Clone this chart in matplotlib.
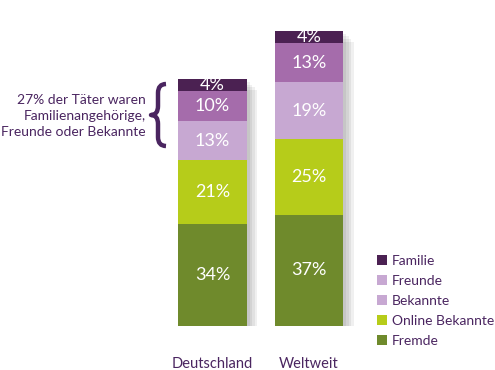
import matplotlib
matplotlib.use("Agg")
from matplotlib import pyplot as plt
from matplotlib.lines import Line2D
from matplotlib.path import Path
from matplotlib.patches import PathPatch
import numpy as np

regions = ["Deutschland", "Weltweit"]
categories = ["Fremde", "Online Bekannte", "Bekannte", "Freunde", "Familie"]
values = {
    "Fremde": [34, 37],
    "Online Bekannte": [21, 25],
    "Bekannte": [13, 19],
    "Freunde": [10, 13],
    "Familie": [4, 4],
}
colors = {
    "Fremde": "#6f8a2c",
    "Online Bekannte": "#b6cc1a",
    "Bekannte": "#c7a8d2",
    "Freunde": "#a56cab",
    "Familie": "#4b2152",
}
legend_order = ["Familie", "Freunde", "Bekannte", "Online Bekannte", "Fremde"]
legend_colors = ["#4b2152", "#c7a8d2", "#c7a8d2", "#b6cc1a", "#6f8a2c"]
note = "27% der Täter waren\nFamilienangehörige,\nFreunde oder Bekannte"

text_color = "#4a2560"
plt.rcParams["font.family"] = ["Lato", "DejaVu Sans"]

fig = plt.figure(figsize=(4.95, 3.7), dpi=100)
ax = fig.add_axes([0, 44 / 370, 1, 295 / 370])

x = np.arange(len(regions))
width = 0.715

# soft shadow behind the bars
totals = np.sum([values[c] for c in categories], axis=0)
for i in range(4):
    off = 0.03 + i * 0.025
    ax.bar(x + off, totals + 0.3 - i * 0.5, width, bottom=-1.2 - i * 0.4,
           color="black", alpha=0.06, linewidth=0, zorder=1)

bottom = np.zeros(len(regions))
for cat in categories:
    vals = np.array(values[cat])
    ax.bar(x, vals, width, bottom=bottom, color=colors[cat],
           linewidth=0, zorder=2)
    for xi, b, v in zip(x, bottom, vals):
        ax.text(xi, b + v / 2, f"{v}%", ha="center", va="center",
                color="white", fontsize=13, zorder=3)
    bottom += vals

ax.set_xlim(-212.5 / 96.5, (495 - 212.5) / 96.5)
ax.set_ylim(0, 98)
ax.set_xticks(x)
ax.set_xticklabels(regions, color=text_color, fontsize=10.5)
ax.tick_params(axis="x", length=0, pad=22)
ax.set_yticks([])
for s in ax.spines.values():
    s.set_visible(False)

fig.text(146 / 495, 1 - 116 / 370, note, ha="right", va="center",
         color=text_color, fontsize=10, linespacing=1.4)

# curly brace drawn as a path (pixel coords, y from top)
pts = [(166, 84), (158, 84), (158, 93), (158, 106),
       (158, 115), (151, 115), (158, 115), (158, 124),
       (158, 137), (158, 146), (166, 146)]
codes = [Path.MOVETO, Path.CURVE3, Path.CURVE3, Path.LINETO,
         Path.CURVE3, Path.CURVE3, Path.CURVE3, Path.CURVE3,
         Path.LINETO, Path.CURVE3, Path.CURVE3]
verts = [(px / 495, 1 - py / 370) for px, py in pts]
fig.add_artist(PathPatch(Path(verts, codes), transform=fig.transFigure,
                         facecolor="none", edgecolor=text_color,
                         linewidth=3.2, capstyle="butt", joinstyle="round"))

handles = [Line2D([], [], marker="s", linestyle="none", markersize=7,
                  markerfacecolor=c, markeredgewidth=0)
           for c in legend_colors]
fig.legend(handles, legend_order, loc="upper left",
           bbox_to_anchor=(370 / 495, 1 - 248 / 370), frameon=False,
           fontsize=10, labelcolor=text_color, handlelength=0.7,
           handletextpad=0.4, labelspacing=0.58, borderpad=0)

fig.savefig("out.png", dpi=100)
plt.close(fig)
